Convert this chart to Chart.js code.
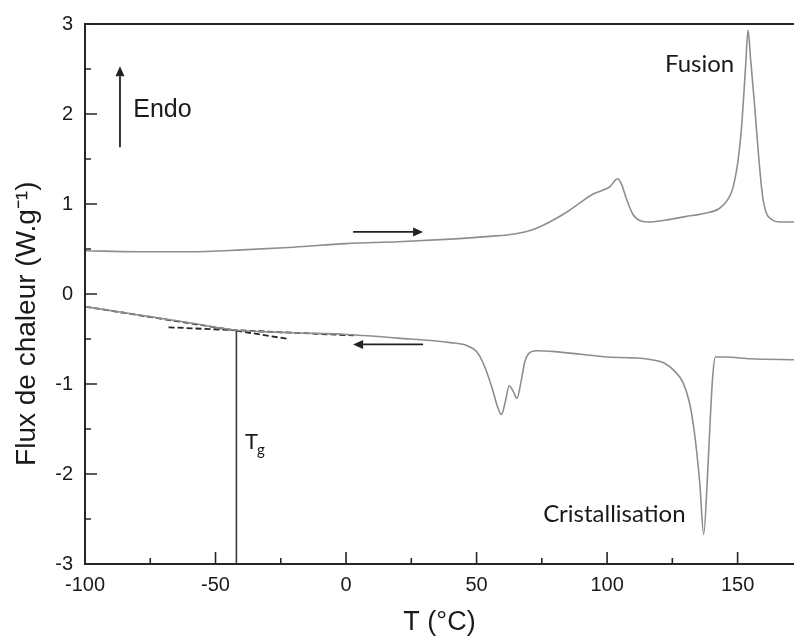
<!DOCTYPE html>
<html>
<head>
<meta charset="utf-8">
<script src="https://cdn.jsdelivr.net/npm/chart.js@4.4.1/dist/chart.umd.min.js"></script>
<style>
  html, body { margin: 0; padding: 0; background: #fff; overflow: hidden; }
  #wrap { width: 794px; height: 644px; }
</style>
</head>
<body>
<div id="wrap"><canvas id="dsc"></canvas></div>
<script>
// heating scan (upper curve)
const heatT    = [-100, -80, -60, -40, -20, 0, 20, 40, 55, 65, 72, 78, 84, 90, 94, 98, 101, 103, 104, 105.5, 107.5, 110, 113, 116, 122, 130, 138, 143, 146, 148, 150, 151.5, 153, 154, 155, 156.5, 158, 159.5, 161, 163, 166, 172];
const heatFlux = [0.48, 0.47, 0.47, 0.49, 0.52, 0.56, 0.58, 0.61, 0.64, 0.67, 0.72, 0.80, 0.90, 1.02, 1.10, 1.15, 1.19, 1.26, 1.28, 1.22, 1.05, 0.88, 0.81, 0.80, 0.82, 0.86, 0.90, 0.95, 1.04, 1.16, 1.45, 1.85, 2.50, 2.93, 2.60, 2.10, 1.55, 1.10, 0.90, 0.83, 0.80, 0.80];

// cooling scan (lower curve)
const coolT    = [-100, -80, -60, -43, -20, 0, 20, 40, 46, 50, 53, 56, 58, 59.5, 61, 62.5, 64, 65.5, 67, 68.5, 70, 73, 80, 90, 100, 110, 117, 122, 126, 129, 131.5, 133.5, 135.5, 137, 138.5, 139.5, 140.5, 141.5, 145, 155, 172];
const coolFlux = [-0.14, -0.23, -0.32, -0.40, -0.43, -0.45, -0.49, -0.54, -0.57, -0.64, -0.80, -1.05, -1.25, -1.34, -1.20, -1.02, -1.08, -1.16, -0.98, -0.75, -0.66, -0.63, -0.64, -0.67, -0.70, -0.71, -0.73, -0.77, -0.86, -0.98, -1.20, -1.55, -2.10, -2.67, -2.00, -1.40, -0.90, -0.70, -0.70, -0.72, -0.73];

// Tg construction: two tangents and the vertical marker
const tangentGlassT = [-100, -22];
const tangentGlassF = [-0.14, -0.50];
const tangentLiqT   = [-68, 3];
const tangentLiqF   = [-0.37, -0.46];
const tgT = [-42, -42];
const tgF = [-0.40, -3];

const xTicks = [-100, -50, 0, 50, 100, 150];
const yTicks = [-3, -2, -1, 0, 1, 2, 3];
const xMinor = [-75, -25, 25, 75, 125];
const yMinor = [-2.5, -1.5, -0.5, 0.5, 1.5, 2.5];

const yTitle = 'Flux de chaleur (W.g⁻¹)';

// arrows and annotations in data coordinates
const arrows = [
  { from: [-86.6, 1.63], to: [-86.6, 2.53] },
  { from: [2.7, 0.69], to: [29.5, 0.69] },
  { from: [29.5, -0.56], to: [2.7, -0.56] }
];
const notes = [
  { text: 'Endo', x: -81.5, y: 2.04, font: '25px "Liberation Sans", Arial, sans-serif' },
  { text: 'Fusion', x: 122.2, y: 2.55, font: '24px Lato, sans-serif' },
  { text: 'Cristallisation', x: 75.5, y: -2.45, font: '24px Lato, sans-serif' }
];

const pts = (xs, ys) => xs.map((x, i) => ({ x: x, y: ys[i] }));

const curveStyle = { borderColor: '#8e8e8e', borderWidth: 1.6, pointRadius: 0, fill: false, cubicInterpolationMode: 'monotone' };
const dashStyle = { borderColor: '#262626', borderWidth: 1.8, pointRadius: 0, fill: false, borderDash: [6, 3] };

const frame = {
  id: 'frame',
  afterDraw(chart) {
    const { ctx, chartArea: a, scales: { x, y } } = chart;
    ctx.save();
    ctx.strokeStyle = '#262626';
    ctx.lineWidth = 2;
    ctx.beginPath();
    ctx.moveTo(a.right + 2, a.top);
    ctx.lineTo(a.left, a.top);
    ctx.lineTo(a.left, a.bottom);
    ctx.lineTo(a.right + 2, a.bottom);
    ctx.stroke();

    ctx.lineWidth = 1.6;
    ctx.beginPath();
    xTicks.forEach(v => { const p = x.getPixelForValue(v); ctx.moveTo(p, a.bottom); ctx.lineTo(p, a.bottom - 12); });
    xMinor.forEach(v => { const p = x.getPixelForValue(v); ctx.moveTo(p, a.bottom); ctx.lineTo(p, a.bottom - 6); });
    yTicks.forEach(v => { const p = y.getPixelForValue(v); ctx.moveTo(a.left, p); ctx.lineTo(a.left + 12, p); });
    yMinor.forEach(v => { const p = y.getPixelForValue(v); ctx.moveTo(a.left, p); ctx.lineTo(a.left + 6, p); });
    ctx.stroke();

    // arrows
    ctx.strokeStyle = '#222';
    ctx.fillStyle = '#222';
    ctx.lineWidth = 1.8;
    arrows.forEach(ar => {
      const x0 = x.getPixelForValue(ar.from[0]), y0 = y.getPixelForValue(ar.from[1]);
      const x1 = x.getPixelForValue(ar.to[0]), y1 = y.getPixelForValue(ar.to[1]);
      const ang = Math.atan2(y1 - y0, x1 - x0);
      const hl = 10, hw = 4.5;
      const bx = x1 - hl * Math.cos(ang), by = y1 - hl * Math.sin(ang);
      ctx.beginPath();
      ctx.moveTo(x0, y0);
      ctx.lineTo(bx, by);
      ctx.stroke();
      ctx.beginPath();
      ctx.moveTo(x1, y1);
      ctx.lineTo(bx + hw * Math.sin(ang), by - hw * Math.cos(ang));
      ctx.lineTo(bx - hw * Math.sin(ang), by + hw * Math.cos(ang));
      ctx.closePath();
      ctx.fill();
    });

    // annotations
    ctx.fillStyle = '#1a1a1a';
    ctx.textBaseline = 'middle';
    ctx.textAlign = 'left';
    notes.forEach(n => {
      ctx.font = n.font;
      ctx.fillText(n.text, x.getPixelForValue(n.x), y.getPixelForValue(n.y));
    });
    const tx = x.getPixelForValue(-38.7), ty = y.getPixelForValue(-1.64);
    ctx.font = '22px Lato, sans-serif';
    ctx.fillText('T', tx, ty);
    const tw = ctx.measureText('T').width;
    ctx.font = '15px Lato, sans-serif';
    ctx.fillText('g', tx + tw - 1, ty + 9);

    // y axis title, a little below the centre of the plot as in the original
    ctx.translate(27, y.getPixelForValue(-0.33));
    ctx.rotate(-Math.PI / 2);
    ctx.textAlign = 'center';
    ctx.font = '28px "Liberation Sans", Arial, sans-serif';
    ctx.fillText(yTitle, 0, 0);
    ctx.restore();
  }
};

const config = {
  type: 'line',
  data: {
    datasets: [
      { label: 'Chauffage', data: pts(heatT, heatFlux), ...curveStyle },
      { label: 'Refroidissement', data: pts(coolT, coolFlux), ...curveStyle },
      { label: 'Tangente verre', data: pts(tangentGlassT, tangentGlassF), ...dashStyle },
      { label: 'Tangente liquide', data: pts(tangentLiqT, tangentLiqF), ...dashStyle },
      { label: 'Tg', data: pts(tgT, tgF), borderColor: '#3a3a3a', borderWidth: 1.6, pointRadius: 0, fill: false }
    ]
  },
  options: {
    responsive: true,
    maintainAspectRatio: false,
    animation: false,
    layout: { padding: { top: 22, right: 0, bottom: 0, left: 0 } },
    plugins: { legend: { display: false }, tooltip: { enabled: false } },
    scales: {
      x: {
        type: 'linear',
        min: -100,
        max: 171.6,
        afterBuildTicks: s => { s.ticks = xTicks.map(v => ({ value: v })); },
        afterFit: s => { s.height = 80; },
        grid: { display: false, drawTicks: false },
        border: { display: false },
        ticks: { color: '#1a1a1a', padding: 9, font: { family: '"Liberation Sans", Arial, sans-serif', size: 20 } },
        title: { display: true, text: 'T (°C)', color: '#1a1a1a', padding: { top: 0, bottom: 5 }, font: { family: '"Liberation Sans", Arial, sans-serif', size: 27 } }
      },
      y: {
        type: 'linear',
        min: -3,
        max: 3,
        afterBuildTicks: s => { s.ticks = yTicks.map(v => ({ value: v })); },
        afterFit: s => { s.width = 85; },
        grid: { display: false, drawTicks: false },
        border: { display: false },
        ticks: { color: '#1a1a1a', padding: 12, font: { family: '"Liberation Sans", Arial, sans-serif', size: 20 } },
        title: { display: false }
      }
    }
  },
  plugins: [frame]
};

const chart = new Chart(document.getElementById('dsc'), config);
</script>
</body>
</html>
